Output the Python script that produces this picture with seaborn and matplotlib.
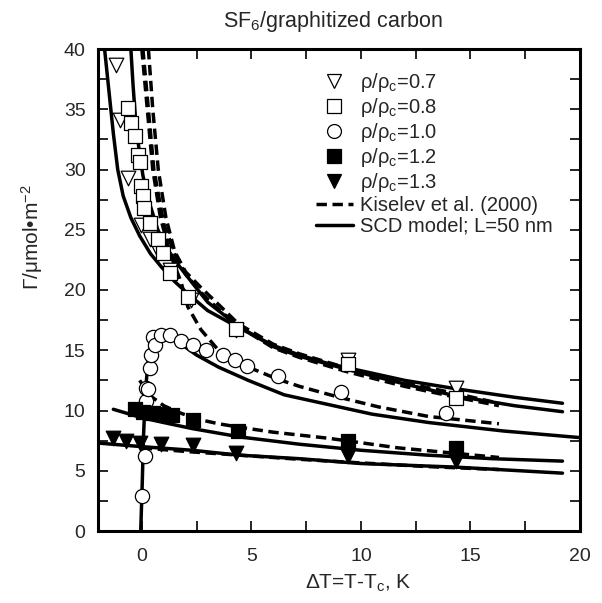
import matplotlib
matplotlib.use("Agg")
import matplotlib.pyplot as plt
from matplotlib.lines import Line2D
from matplotlib.ticker import MultipleLocator
import seaborn as sns
import pandas as pd

# ---------------- data ----------------
# experimental points
x07 = [-1.19, -1.0, -0.64, -0.05, 0.37, 0.8, 1.3, 2.25, 4.3, 9.4, 14.35]
y07 = [38.7, 34.1, 29.3, 25.4, 24.2, 23.1, 21.7, 19.2, 16.7, 14.2, 11.9]

x08 = [-0.64, -0.5, -0.33, -0.18, -0.1, -0.05, 0.05, 0.12, 0.37, 0.73, 0.96, 1.28, 2.1, 4.3, 9.4, 14.35]
y08 = [35.1, 33.9, 32.8, 31.2, 30.6, 28.6, 27.8, 26.8, 25.6, 24.2, 23.1, 21.4, 19.4, 16.8, 13.9, 11.0]

x10 = [0.0, 0.14, 0.18, 0.18, 0.28, 0.37, 0.4, 0.5, 0.6, 0.87, 1.28, 1.8, 2.34, 2.94, 3.7, 4.25, 4.8, 6.2, 9.1, 13.9]
y10 = [2.9, 6.25, 10.8, 11.9, 11.8, 13.5, 14.6, 16.1, 15.4, 16.25, 16.25, 15.8, 15.4, 15.0, 14.6, 14.2, 13.7, 12.9, 11.5, 9.8]

x12 = [-0.3, 0.05, 0.5, 0.96, 1.4, 2.34, 4.4, 9.4, 14.35]
y12 = [10.1, 9.9, 9.8, 9.7, 9.6, 9.2, 8.3, 7.5, 6.9]

x13 = [-1.3, -0.73, -0.1, 0.87, 2.34, 4.3, 9.4, 14.35]
y13 = [7.75, 7.5, 7.3, 7.25, 7.1, 6.5, 6.25, 5.8]

# SCD model curves (solid)
scd07_x = [-1.7, -1.5, -1.3, -1.1, -0.85, -0.5, -0.1, 0.4, 0.9, 1.5, 2.1, 3.0, 4.4, 6.0, 7.2, 8.5, 10.0, 12.0, 14.35, 17.0, 19.2]
scd07_y = [40.0, 36.5, 33.0, 30.0, 27.8, 26.0, 24.5, 23.0, 21.9, 20.7, 19.7, 18.3, 16.9, 15.4, 14.6, 13.9, 13.3, 12.5, 11.8, 11.1, 10.6]

scd08_x = [-0.5, -0.4, -0.3, -0.15, 0.05, 0.3, 0.73, 1.2, 1.7, 2.3, 3.0, 4.4, 6.0, 7.2, 9.4, 12.0, 14.35, 17.0, 19.2]
scd08_y = [40.0, 37.0, 34.5, 32.0, 29.5, 27.5, 25.0, 23.3, 22.0, 20.6, 19.0, 17.0, 15.3, 14.5, 13.4, 12.2, 11.2, 10.4, 9.9]

scd10_x = [-0.05, 0.02, 0.08, 0.14, 0.2, 0.28, 0.4, 0.6, 0.85, 1.2, 1.65, 2.5, 3.5, 4.86, 6.5, 8.5, 10.5, 13.1, 16.5, 20.0]
scd10_y = [0.0, 4.0, 8.0, 10.5, 12.3, 14.0, 15.4, 16.2, 16.5, 16.3, 15.7, 14.6, 13.6, 12.5, 11.3, 10.5, 9.7, 9.0, 8.3, 7.75]

scd12_x = [-1.3, 0.0, 1.0, 2.3, 4.5, 7.2, 10.0, 13.0, 16.0, 19.2]
scd12_y = [10.1, 9.4, 9.0, 8.5, 7.8, 7.2, 6.7, 6.3, 6.0, 5.8]

scd13_x = [-2.0, 0.0, 2.3, 4.4, 7.2, 10.0, 14.35, 19.2]
scd13_y = [7.3, 7.0, 6.7, 6.3, 6.0, 5.6, 5.3, 4.8]

# Kiselev et al. (2000) curves (dashed)
kis07_x = [0.3, 0.5, 0.75, 1.1, 1.5, 2.0, 2.7, 3.5, 4.4, 6.0, 7.2, 9.4, 12.0, 14.35, 16.3]
kis07_y = [40.0, 35.0, 30.0, 26.0, 23.2, 21.5, 20.2, 18.8, 17.2, 15.5, 14.7, 13.5, 12.3, 11.4, 10.6]

kis08_x = [0.05, 0.3, 0.55, 1.0, 1.5, 2.0, 2.7, 3.5, 4.4, 6.0, 7.2, 9.4, 12.0, 14.35, 16.3]
kis08_y = [40.0, 35.0, 30.0, 25.5, 23.0, 21.3, 19.8, 18.4, 17.0, 15.2, 14.4, 13.2, 12.0, 11.1, 10.4]

kis10_x = [0.0, 0.25, 0.5, 0.85, 1.3, 1.8, 2.1, 2.7, 3.5, 4.3, 4.86, 6.2, 7.2, 9.0, 10.8, 13.1, 16.3]
kis10_y = [40.0, 35.0, 30.0, 26.0, 23.0, 20.6, 18.6, 16.7, 15.0, 14.2, 13.6, 12.6, 12.0, 11.1, 10.3, 9.5, 8.9]

kis12_x = [-0.1, 0.4, 1.0, 1.6, 2.5, 3.5, 4.5, 6.0, 8.5, 11.7, 14.0, 16.3]
kis12_y = [12.5, 11.2, 10.4, 9.9, 9.3, 8.9, 8.6, 8.2, 7.7, 6.9, 6.5, 6.1]

kis13_x = [0.0, 2.0, 4.4, 7.2, 10.0, 13.0, 16.3]
kis13_y = [6.9, 6.6, 6.3, 5.95, 5.65, 5.35, 5.1]

xticks = [0, 5, 10, 15, 20]
yticks = [0, 5, 10, 15, 20, 25, 30, 35, 40]

# ---------------- plotting ----------------
sns.set_theme(style="ticks")
plt.rcParams["font.family"] = ["Liberation Sans", "DejaVu Sans"]
plt.rcParams["mathtext.fontset"] = "custom"
plt.rcParams["mathtext.rm"] = "Liberation Sans"
plt.rcParams["mathtext.it"] = "Liberation Sans"

fig = plt.figure(figsize=(6.02, 6.03), dpi=100)
ax = fig.add_axes([98 / 602, 1 - 531 / 603, 482 / 602, 482 / 603])

DASH = (3.0, 1.6)
LW = 2.5

def curve(xs, ys, dashed=False):
    df = pd.DataFrame({"x": xs, "y": ys})
    sns.lineplot(data=df, x="x", y="y", color="black", lw=LW, sort=False,
                 estimator=None, ax=ax, legend=False)
    if dashed:
        ax.lines[-1].set_dashes(DASH)

for xs, ys in [(scd07_x, scd07_y), (scd08_x, scd08_y), (scd10_x, scd10_y),
               (scd12_x, scd12_y), (scd13_x, scd13_y)]:
    curve(xs, ys)
for xs, ys in [(kis07_x, kis07_y), (kis08_x, kis08_y), (kis10_x, kis10_y),
               (kis12_x, kis12_y), (kis13_x, kis13_y)]:
    curve(xs, ys, dashed=True)

def pts(xs, ys, marker, filled, s):
    sns.scatterplot(x=xs, y=ys, marker=marker, s=s, ax=ax, legend=False,
                    facecolor="black" if filled else "white",
                    edgecolor="black", linewidth=0.9, zorder=3)

pts(x07, y07, "v", False, 110)
pts(x08, y08, "s", False, 95)
pts(x10, y10, "o", False, 105)
pts(x12, y12, "s", True, 95)
pts(x13, y13, "v", True, 110)

ax.set_xlim(-2, 20)
ax.set_ylim(0, 40)
ax.set_xticks(xticks)
ax.set_yticks(yticks)
ax.xaxis.set_minor_locator(MultipleLocator(2.5))
ax.yaxis.set_minor_locator(MultipleLocator(2.5))
ax.tick_params(which="both", direction="in", top=True, right=True,
               width=1.2, color="black", length=7)
ax.tick_params(axis="y", which="major", labelsize=14, pad=9)
ax.tick_params(axis="x", which="major", labelsize=14, pad=12)
for sp in ax.spines.values():
    sp.set_linewidth(2.2)
    sp.set_color("black")

ax.set_xlabel("ΔT=T-T$_c$, K", fontsize=15)
ax.xaxis.set_label_coords(0.54, -0.086)
ax.set_ylabel("Γ/μmol•m$^{-2}$", fontsize=15)
ax.yaxis.set_label_coords(-0.11, 0.61)
ax.text(0.4875, 1.046, "SF$_6$/graphitized carbon", transform=ax.transAxes,
        ha="center", va="baseline", fontsize=15.5)

handles = [
    Line2D([], [], ls="none", marker="v", mfc="white", mec="black", ms=10, mew=0.9),
    Line2D([], [], ls="none", marker="s", mfc="white", mec="black", ms=9.5, mew=0.9),
    Line2D([], [], ls="none", marker="o", mfc="white", mec="black", ms=10, mew=0.9),
    Line2D([], [], ls="none", marker="s", mfc="black", mec="black", ms=9.5, mew=0.9),
    Line2D([], [], ls="none", marker="v", mfc="black", mec="black", ms=10, mew=0.9),
    Line2D([], [], color="black", lw=LW, dashes=DASH),
    Line2D([], [], color="black", lw=LW),
]
labels = ["ρ/ρ$_c$=0.7", "ρ/ρ$_c$=0.8", "ρ/ρ$_c$=1.0", "ρ/ρ$_c$=1.2",
          "ρ/ρ$_c$=1.3", "Kiselev et al. (2000)", "SCD model; L=50 nm"]
ax.legend(handles, labels, loc="upper left", bbox_to_anchor=(0.452, 0.955),
          frameon=False, fontsize=14.5, handlelength=1.85, handletextpad=0.35,
          labelspacing=0.1, borderaxespad=0, borderpad=0)

fig.savefig("out.png", dpi=100)
